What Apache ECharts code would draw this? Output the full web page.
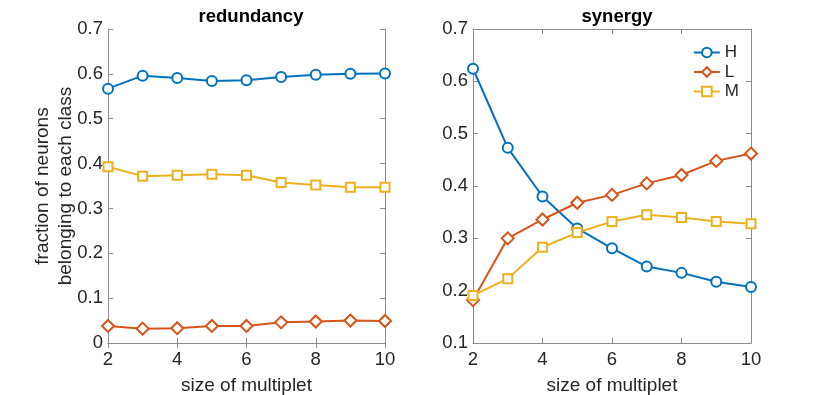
<!DOCTYPE html>
<html>
<head>
<meta charset="utf-8">
<script src="https://cdn.jsdelivr.net/npm/echarts@6/dist/echarts.min.js"></script>
<style>
  html, body { margin: 0; padding: 0; background: #fff; }
  #box { width: 830px; height: 395px; }
</style>
</head>
<body>
<div id="box"></div>
<script>
// multiplet sizes
const sizes = [2, 3, 4, 5, 6, 7, 8, 9, 10];

// redundancy panel
const redH = [0.567, 0.596, 0.591, 0.584, 0.586, 0.593, 0.598, 0.600, 0.601];
const redL = [0.038, 0.032, 0.033, 0.038, 0.038, 0.046, 0.048, 0.050, 0.049];
const redM = [0.393, 0.372, 0.374, 0.376, 0.374, 0.358, 0.352, 0.347, 0.347];

// synergy panel
const synH = [0.624, 0.473, 0.380, 0.319, 0.281, 0.246, 0.234, 0.217, 0.207];
const synL = [0.182, 0.300, 0.336, 0.368, 0.383, 0.405, 0.421, 0.448, 0.462];
const synM = [0.191, 0.223, 0.283, 0.311, 0.332, 0.345, 0.340, 0.332, 0.328];

const colors = { H: '#0072BD', L: '#D95319', M: '#EDB120' };
const font = 'Liberation Sans, Arial, Helvetica, sans-serif';
const grey = '#8c8c8c';
const ink = '#262626';

const pair = (ys) => sizes.map((x, i) => [x, ys[i]]);

const chart = echarts.init(document.getElementById('box'));

function xAx(grid, pos) {
    return {
        type: 'value', gridIndex: grid, position: pos,
        min: 2, max: 10, interval: 2,
        name: pos === 'bottom' ? 'size of multiplet' : '',
        nameLocation: 'middle', nameGap: 33,
        nameTextStyle: { fontFamily: font, fontSize: 19, color: ink },
        axisLine: { lineStyle: { color: grey, width: 1 } },
        axisTick: { inside: true, length: 5, lineStyle: { color: grey } },
        axisLabel: { show: pos === 'bottom', fontFamily: font, fontSize: 18.5, color: ink, margin: 7 },
        splitLine: { show: false }
    };
}

function yAx(grid, pos, min) {
    return {
        type: 'value', gridIndex: grid, position: pos,
        min: min, max: 0.7, interval: 0.1,
        axisLine: { show: true, lineStyle: { color: grey, width: 1 } },
        axisTick: { show: true, inside: true, length: 5, lineStyle: { color: grey } },
        axisLabel: {
            show: pos === 'left', fontFamily: font, fontSize: 18.5, color: ink, margin: 5,
            formatter: (v) => String(+v.toFixed(1))
        },
        splitLine: { show: false }
    };
}

function line(name, data, xi, yi, symbol, size) {
    return {
        name: name, type: 'line', xAxisIndex: xi, yAxisIndex: yi,
        data: pair(data),
        symbol: symbol, symbolSize: size,
        lineStyle: { color: colors[name], width: 2 },
        itemStyle: { color: colors[name], borderColor: colors[name], borderWidth: 2 },
        emphasis: { disabled: true },
        animation: false
    };
}

const yLeft = yAx(0, 'left', 0);
yLeft.name = 'fraction of neurons\nbelonging to each class';
yLeft.nameLocation = 'middle';
yLeft.nameGap = 31;
yLeft.nameMoveOverlap = false;
yLeft.nameTextStyle = { fontFamily: font, fontSize: 19, color: ink, lineHeight: 23 };

chart.setOption({
    backgroundColor: '#fff',
    title: [
        { text: 'redundancy', left: 246, top: 2, textAlign: 'center',
          textStyle: { fontFamily: font, fontSize: 18.5, fontWeight: 'bold', color: '#000' } },
        { text: 'synergy', left: 612, top: 2, textAlign: 'center',
          textStyle: { fontFamily: font, fontSize: 18.5, fontWeight: 'bold', color: '#000' } }
    ],
    legend: {
        data: ['H', 'L', 'M'],
        orient: 'vertical',
        right: 86, top: 39,
        itemWidth: 26, itemHeight: 12, itemGap: 2.5,
        textStyle: { fontFamily: font, fontSize: 17, color: ink },
        selectedMode: false
    },
    grid: [
        { left: 108, right: 445, top: 29, bottom: 52, outerBoundsMode: 'none' },
        { left: 473, right: 79, top: 29, bottom: 52, outerBoundsMode: 'none' }
    ],
    xAxis: [xAx(0, 'bottom'), xAx(1, 'bottom'), xAx(0, 'top'), xAx(1, 'top')],
    yAxis: [yLeft, yAx(1, 'left', 0.1), yAx(0, 'right', 0), yAx(1, 'right', 0.1)],
    series: [
        line('H', redH, 0, 0, 'emptyCircle', 10),
        line('L', redL, 0, 0, 'emptyDiamond', 12),
        line('M', redM, 0, 0, 'emptyRect', 9),
        line('H', synH, 1, 1, 'emptyCircle', 10),
        line('L', synL, 1, 1, 'emptyDiamond', 12),
        line('M', synM, 1, 1, 'emptyRect', 9)
    ]
});
</script>
</body>
</html>
